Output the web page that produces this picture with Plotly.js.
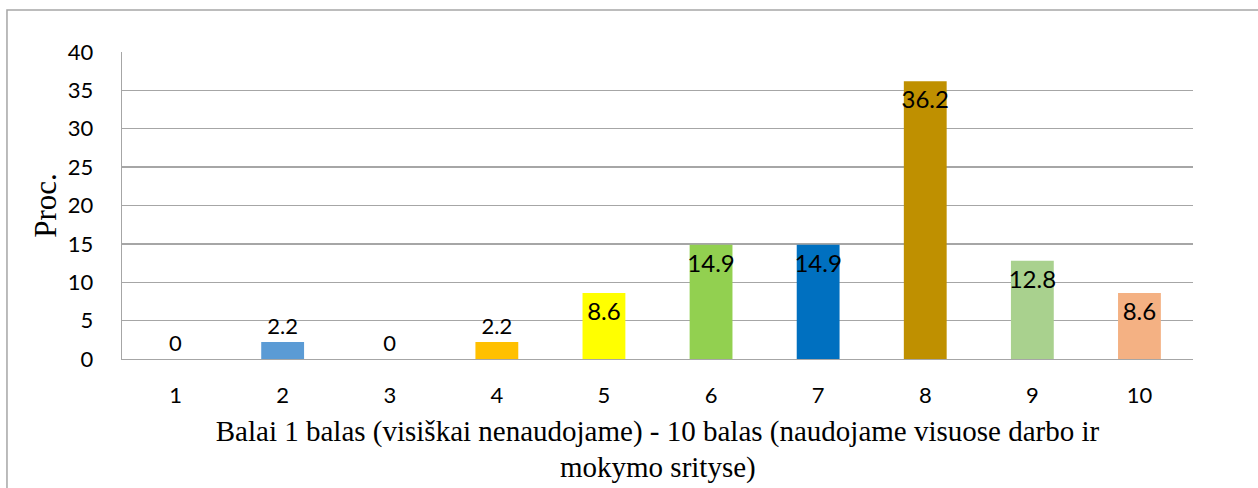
<!DOCTYPE html>
<html>
<head>
<meta charset="utf-8">
<script src="https://cdn.plot.ly/plotly-3.0.1.min.js"></script>
<style>
html,body{margin:0;padding:0;background:#fff;}
#chart{width:1258px;height:488px;}
</style>
</head>
<body>
<div id="chart"></div>
<script>
const categories = ['1','2','3','4','5','6','7','8','9','10'];
const values = [0, 2.2, 0, 2.2, 8.6, 14.9, 14.9, 36.2, 12.8, 8.6];
const barColors = ['#4472C4','#5B9BD5','#A5A5A5','#FFC000','#FFFF00','#92D050','#0070C0','#BF9000','#A9D18E','#F4B183'];
const yTickVals = [0,5,10,15,20,25,30,35,40];
const xTitleLine1 = 'Balai 1 balas (visiškai nenaudojame) - 10 balas (naudojame visuose darbo ir';
const xTitleLine2 = 'mokymo srityse)';
const yTitle = 'Proc.';

const textPositions = values.map(v => v < 5 ? 'outside' : 'inside');
const serif = '"Liberation Serif", "Times New Roman", serif';
const sans = 'Lato, sans-serif';

const trace = {
  type: 'bar',
  x: categories,
  y: values,
  marker: {color: barColors, line: {width: 0}},
  width: 0.4,
  text: values.map(v => String(v)),
  textposition: textPositions,
  insidetextanchor: 'end',
  textangle: 0,
  constraintext: 'none',
  cliponaxis: false,
  insidetextfont: {family: sans, size: 24, color: '#000'},
  outsidetextfont: {family: sans, size: 22, color: '#000'},
  hoverinfo: 'none'
};

const layout = {
  width: 1258,
  height: 488,
  margin: {l: 122, r: 65, t: 52, b: 129},
  paper_bgcolor: '#fff',
  plot_bgcolor: '#fff',
  showlegend: false,
  xaxis: {
    type: 'category',
    showgrid: false,
    showline: true,
    linecolor: '#a6a6a6',
    linewidth: 1.3,
    ticks: 'outside',
    ticklen: 16,
    tickcolor: 'rgba(0,0,0,0)',
    tickfont: {family: sans, size: 22, color: '#000'},
    title: {text: xTitleLine1, font: {family: serif, size: 29, color: '#000'}, standoff: 14},
    automargin: false
  },
  yaxis: {
    range: [0, 40],
    tickvals: yTickVals,
    showgrid: true,
    gridcolor: '#a6a6a6',
    gridwidth: 1.3,
    showline: true,
    linecolor: '#a6a6a6',
    linewidth: 1.3,
    zeroline: false,
    ticks: 'outside',
    ticklen: 23,
    tickcolor: 'rgba(0,0,0,0)',
    tickfont: {family: sans, size: 22, color: '#000'},
    title: {text: yTitle, font: {family: serif, size: 31, color: '#000'}, standoff: 2},
    automargin: false
  },
  annotations: [{
    text: xTitleLine2,
    xref: 'paper', yref: 'paper',
    x: 0.5, y: -0.352,
    xanchor: 'center', yanchor: 'middle',
    showarrow: false,
    font: {family: serif, size: 29, color: '#000'}
  }],
  shapes: [{
    type: 'rect', xref: 'paper', yref: 'paper',
    x0: -0.1074, x1: 1.2, y0: -0.6, y1: 1.1368,
    line: {color: '#a6a6a6', width: 1.5},
    fillcolor: 'rgba(0,0,0,0)',
    layer: 'below'
  }]
};

Plotly.newPlot('chart', [trace], layout, {displayModeBar: false, staticPlot: true});
</script>
</body>
</html>
